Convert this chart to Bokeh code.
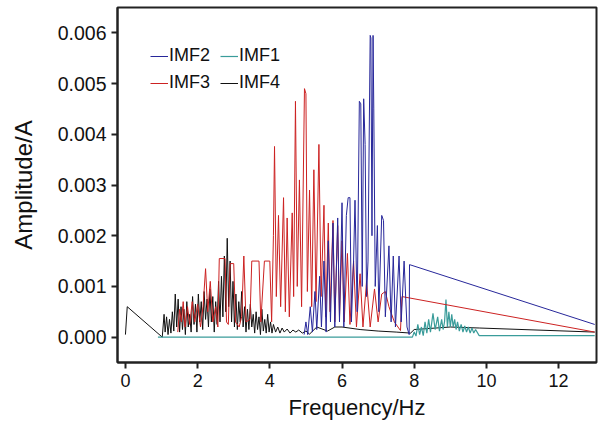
from bokeh.plotting import figure
from bokeh.models import Range1d, Legend, LegendItem, PrintfTickFormatter, FixedTicker
from bokeh.embed import file_html
from bokeh.resources import INLINE

# ---------------- data ----------------
imf4_f = [0.00, 0.05, 1.02, 1.07, 1.10, 1.14, 1.18, 1.22, 1.26, 1.30, 1.34, 1.38, 1.42, 1.46,
          1.50, 1.54, 1.58, 1.62, 1.66, 1.70, 1.74, 1.78, 1.82, 1.86, 1.90, 1.94, 1.98, 2.02,
          2.06, 2.10, 2.14, 2.18, 2.22, 2.26, 2.30, 2.34, 2.38, 2.42, 2.46, 2.50, 2.54, 2.58,
          2.62, 2.66, 2.70, 2.74, 2.78, 2.82, 2.86, 2.90, 2.94, 2.98, 3.02, 3.06, 3.10, 3.14,
          3.18, 3.22, 3.26, 3.30, 3.34, 3.38, 3.42, 3.46, 3.50, 3.54, 3.58, 3.62, 3.66, 3.70,
          3.74, 3.78, 3.82, 3.86, 3.90, 3.94, 3.98, 4.02, 4.06, 4.10, 4.16, 4.22, 4.28, 4.34,
          4.40, 4.48, 4.56, 4.64, 4.72, 4.80, 4.90, 5.00, 5.10, 5.30, 5.60, 5.80, 6.00, 6.50,
          7.00, 7.50, 7.90, 8.00, 9.00, 9.80, 13.00]
imf4_a = [0.00005, 0.00060, 0.00000, 0.00045, 0.00010, 0.00040, 0.00005, 0.00035, 0.00008, 0.00050,
          0.00012, 0.00085, 0.00020, 0.00075, 0.00010, 0.00060, 0.00015, 0.00055, 0.00005, 0.00070,
          0.00020, 0.00045, 0.00010, 0.00080, 0.00025, 0.00065, 0.00010, 0.00085, 0.00030, 0.00070,
          0.00015, 0.00090, 0.00035, 0.00075, 0.00020, 0.00095, 0.00030, 0.00080, 0.00010, 0.00070,
          0.00025, 0.00110, 0.00030, 0.00120, 0.00040, 0.00160, 0.00050, 0.00195, 0.00060, 0.00150,
          0.00030, 0.00110, 0.00020, 0.00085, 0.00015, 0.00070, 0.00030, 0.00090, 0.00020, 0.00060,
          0.00010, 0.00055, 0.00015, 0.00065, 0.00020, 0.00045, 0.00008, 0.00050, 0.00015, 0.00040,
          0.00005, 0.00055, 0.00012, 0.00035, 0.00008, 0.00045, 0.00010, 0.00030, 0.00008, 0.00025,
          0.00010, 0.00020, 0.00008, 0.00018, 0.00010, 0.00016, 0.00008, 0.00014, 0.00010, 0.00014,
          0.00008, 0.00012, 0.00006, 0.00020, 0.00012, 0.00020, 0.00020, 0.00015, 0.00012, 0.00010,
          0.00008, 0.00015, 0.00020, 0.00018, 0.00010]

imf3_f = [1.45, 1.50, 1.55, 1.60, 1.65, 1.72, 1.78, 1.85, 1.92, 2.00, 2.08, 2.15, 2.22, 2.28,
          2.35, 2.42, 2.50, 2.56, 2.60, 2.76, 2.80, 2.85, 2.90, 3.00, 3.05, 3.15, 3.22, 3.28,
          3.34, 3.45, 3.50, 3.70, 3.75, 3.85, 4.00, 4.05, 4.10, 4.13, 4.18, 4.24, 4.30, 4.38,
          4.43, 4.48, 4.54, 4.62, 4.66, 4.71, 4.76, 4.82, 4.88, 4.96, 5.00, 5.04, 5.10, 5.16,
          5.22, 5.28, 5.36, 5.42, 5.50, 5.55, 5.62, 5.67, 5.75, 5.80, 5.88, 5.93, 6.00, 6.06,
          6.15, 6.22, 6.32, 6.40, 6.50, 6.58, 6.68, 6.78, 6.90, 7.00, 7.10, 7.20, 7.30, 7.45,
          7.62, 7.66, 13.00]
imf3_a = [0.00010, 0.00055, 0.00030, 0.00070, 0.00020, 0.00060, 0.00025, 0.00070, 0.00030, 0.00065,
          0.00020, 0.00060, 0.00135, 0.00050, 0.00110, 0.00030, 0.00060, 0.00020, 0.00155, 0.00155,
          0.00030, 0.00025, 0.00145, 0.00145, 0.00030, 0.00020, 0.00040, 0.00160, 0.00030, 0.00035,
          0.00150, 0.00150, 0.00030, 0.00150, 0.00150, 0.00030, 0.00200, 0.00376, 0.00080, 0.00240,
          0.00060, 0.00275, 0.00050, 0.00235, 0.00040, 0.00245, 0.00080, 0.00465, 0.00100, 0.00310,
          0.00060, 0.00490, 0.00480, 0.00090, 0.00290, 0.00060, 0.00330, 0.00070, 0.00380, 0.00080,
          0.00260, 0.00040, 0.00225, 0.00050, 0.00230, 0.00030, 0.00220, 0.00040, 0.00190, 0.00030,
          0.00165, 0.00025, 0.00150, 0.00020, 0.00125, 0.00020, 0.00110, 0.00020, 0.00095, 0.00030,
          0.00085, 0.00090, 0.00060, 0.00030, 0.00013, 0.00080, 0.00010]

imf2_f = [4.95, 5.00, 5.05, 5.12, 5.18, 5.25, 5.30, 5.38, 5.43, 5.50, 5.56, 5.62, 5.68, 5.75,
          5.80, 5.88, 5.93, 6.00, 6.05, 6.12, 6.17, 6.22, 6.26, 6.32, 6.36, 6.42, 6.48, 6.52,
          6.56, 6.60, 6.64, 6.68, 6.72, 6.78, 6.80, 6.83, 6.86, 6.88, 6.92, 6.98, 7.02, 7.10,
          7.15, 7.20, 7.30, 7.36, 7.42, 7.48, 7.58, 7.64, 7.72, 7.80, 7.86, 7.87, 13.00]
imf2_a = [0.00005, 0.00030, 0.00005, 0.00060, 0.00010, 0.00090, 0.00015, 0.00120, 0.00020, 0.00150,
          0.00010, 0.00190, 0.00030, 0.00225, 0.00020, 0.00235, 0.00030, 0.00265, 0.00020, 0.00240,
          0.00275, 0.00275, 0.00030, 0.00150, 0.00270, 0.00050, 0.00465, 0.00460, 0.00100, 0.00470,
          0.00380, 0.00080, 0.00150, 0.00595, 0.00590, 0.00200, 0.00595, 0.00450, 0.00100, 0.00220,
          0.00050, 0.00240, 0.00230, 0.00040, 0.00180, 0.00030, 0.00160, 0.00020, 0.00160, 0.00030,
          0.00150, 0.00020, 0.00005, 0.00143, 0.00025]

imf1_f = [0.90, 7.95, 8.00, 8.05, 8.10, 8.15, 8.20, 8.25, 8.30, 8.35, 8.40, 8.45, 8.52, 8.58,
          8.65, 8.70, 8.76, 8.80, 8.84, 8.88, 8.92, 8.96, 9.00, 9.04, 9.08, 9.12, 9.16, 9.20,
          9.25, 9.30, 9.35, 9.40, 9.45, 9.50, 9.55, 9.60, 9.65, 9.70, 9.80, 13.00]
imf1_a = [0.00000, 0.00000, 0.00010, 0.00002, 0.00025, 0.00005, 0.00020, 0.00003, 0.00030, 0.00008,
          0.00035, 0.00010, 0.00047, 0.00015, 0.00040, 0.00012, 0.00035, 0.00015, 0.00030, 0.00074,
          0.00020, 0.00050, 0.00020, 0.00045, 0.00020, 0.00035, 0.00015, 0.00030, 0.00012, 0.00025,
          0.00010, 0.00022, 0.00010, 0.00020, 0.00008, 0.00018, 0.00008, 0.00015, 0.00003, 0.00003]

x_ticks = [0, 2, 4, 6, 8, 10, 12]
y_ticks = [0.000, 0.001, 0.002, 0.003, 0.004, 0.005, 0.006]

FONT = "Liberation Sans"

p = figure(frame_width=479, frame_height=355, output_backend="svg", toolbar_location=None,
           x_range=Range1d(-0.22, 13.05), y_range=Range1d(-0.0005, 0.0065),
           min_border_left=117, min_border_top=7, min_border_right=2, min_border_bottom=10)
p.background_fill_color = "white"
p.border_fill_color = "white"
p.outline_line_color = "#222222"
p.outline_line_width = 2
p.xgrid.visible = False
p.ygrid.visible = False

r4 = p.line(imf4_f, imf4_a, line_color="#111111", line_width=1)
r1 = p.line(imf1_f, imf1_a, line_color="#3a9c9a", line_width=1.2)
r3 = p.line(imf3_f, imf3_a, line_color="#cc2222", line_width=1)
r2 = p.line(imf2_f, imf2_a, line_color="#27279a", line_width=1)

for ax in (p.xaxis[0], p.yaxis[0]):
    ax.axis_line_width = 2
    ax.axis_line_color = "#222222"
    ax.major_tick_line_width = 2
    ax.major_tick_line_color = "#222222"
    ax.major_tick_out = 6
    ax.major_tick_in = 0
    ax.minor_tick_line_color = None
    ax.major_label_text_font = FONT
    ax.major_label_text_color = "#111111"
    ax.axis_label_text_font = FONT
    ax.axis_label_text_font_style = "normal"
    ax.axis_label_text_color = "#111111"

p.xaxis.major_label_text_font_size = "18px"
p.yaxis.major_label_text_font_size = "19.5px"
p.xaxis.ticker = FixedTicker(ticks=x_ticks)
p.yaxis.ticker = FixedTicker(ticks=y_ticks)
p.yaxis.formatter = PrintfTickFormatter(format="%.3f")
p.xaxis.major_label_standoff = 5
p.yaxis.major_label_standoff = 5
p.xaxis.axis_label = "Frequency/Hz"
p.yaxis.axis_label = "Amplitude/A"
p.xaxis.axis_label_text_font_size = "22px"
p.yaxis.axis_label_text_font_size = "24px"
p.xaxis.axis_label_standoff = 5
p.yaxis.axis_label_standoff = 18

def make_legend(items, loc):
    lg = Legend(items=items, location=loc, orientation="horizontal",
                glyph_width=18, glyph_height=18, label_standoff=1, spacing=10,
                padding=0, margin=0, border_line_alpha=0, background_fill_alpha=0,
                label_text_font=FONT, label_text_font_size="18px", label_text_color="#111111")
    return lg

p.add_layout(make_legend([LegendItem(label="IMF2", renderers=[r2]),
                          LegendItem(label="IMF1", renderers=[r1])], (33, 296)))
p.add_layout(make_legend([LegendItem(label="IMF3", renderers=[r3]),
                          LegendItem(label="IMF4", renderers=[r4])], (33, 269)))

open("out.html", "w").write(file_html(p, INLINE))
